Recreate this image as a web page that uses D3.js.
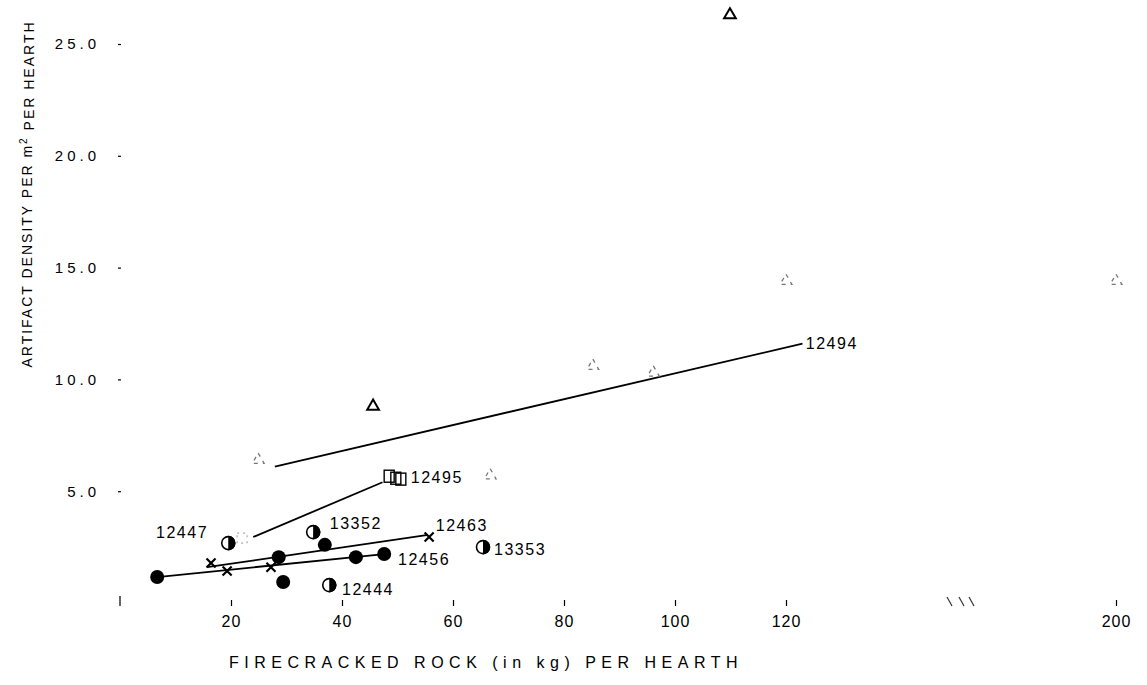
<!DOCTYPE html>
<html>
<head>
<meta charset="utf-8">
<script src="https://cdn.jsdelivr.net/npm/d3@7"></script>
<style>
  body { margin: 0; background: #fff; }
  svg { display: block; font-family: "Liberation Sans", Arial, sans-serif; }
</style>
</head>
<body>
<svg></svg>
<script>
var width = 1147;
var height = 685;

// tick values
var xTicks = [20, 40, 60, 80, 100, 120, 200];
var yTicks = [5, 10, 15, 20, 25];

// hearth 12494 (open triangles)
var triangles = [[45.6, 8.8], [109.9, 26.3]];
var fadedTriangles = [[24.9, 6.4], [85.2, 10.6], [96.1, 10.3], [120, 14.4], [200, 14.4], [66.7, 5.7]];
// hearth 12495 (open squares)
var squares = [[48.5, 5.67], [49.7, 5.58], [50.6, 5.54]];
var fadedSquares = [[22, 2.9]];
// hearth 12463 (crosses)
var crosses = [[16.4, 1.79], [19.3, 1.43], [27.2, 1.6], [55.7, 2.95]];
// hearth 12456 and others (filled circles)
var filled = [[6.7, 1.16], [28.6, 2.05], [29.4, 0.94], [42.5, 2.05], [47.6, 2.19], [36.9, 2.6]];
// half filled circles: 12447, 13352, 12444, 13353
var halfFilled = [[19.5, 2.68], [34.8, 3.17], [37.7, 0.8], [65.4, 2.5]];

// fitted lines (end points)
var fitLines = [
  [[27.9, 6.1], [124, 11.6]],    // 12494
  [[24, 2.95], [47.3, 5.4]],     // 12495
  [[15.7, 1.6], [55.5, 3.05]],   // 12463
  [[6.7, 1.16], [47.6, 2.19]]    // 12456
];

// hearth labels, anchored at the start of the text
var labelNames = ["12494", "12495", "12447", "13352", "12463", "12456", "13353", "12444"];
var labelPos = [[124.8, 11.6], [52.4, 5.6], [6.5, 3.17], [37.8, 3.57], [56.9, 3.48], [50.1, 1.96], [67.4, 2.41], [40, 0.63]];

var svg = d3.select("svg")
  .attr("width", width)
  .attr("height", height);

// x axis is broken after 120
var x = d3.scaleLinear()
  .domain([0, 120, 200])
  .range([120, 786, 1116]);

var y = d3.scaleLinear()
  .domain([0, 25])
  .range([603, 44]);

var ink = "#000";

// axes: tick dashes only, the axis lines are not printed
var xAxis = svg.append("g")
  .attr("transform", "translate(0,600)")
  .call(d3.axisBottom(x).tickValues(xTicks).tickSize(6).tickPadding(10).tickFormat(d3.format("d")));
xAxis.select(".domain").remove();
xAxis.selectAll(".tick line").attr("stroke", ink).attr("stroke-width", 1.2);
xAxis.selectAll(".tick text")
  .attr("fill", ink)
  .style("font-size", "16px")
  .style("letter-spacing", "1px");

var yAxis = svg.append("g")
  .attr("transform", "translate(121,0)")
  .call(d3.axisLeft(y).tickValues(yTicks).tickSize(3).tickPadding(18).tickFormat(d3.format(".1f")));
yAxis.select(".domain").remove();
yAxis.selectAll(".tick line").attr("stroke", ink).attr("stroke-width", 1.2);
yAxis.selectAll(".tick text")
  .attr("fill", ink)
  .style("font-size", "15px")
  .style("letter-spacing", "4px");

// origin tick and axis break marks
svg.append("line")
  .attr("x1", x(0)).attr("x2", x(0))
  .attr("y1", 596).attr("y2", 606)
  .attr("stroke", ink).attr("stroke-width", 1.2);

var breakG = svg.append("g").attr("stroke", "#333").attr("stroke-width", 1.2).attr("fill", "none");
[950, 962, 972].forEach(function(bx) {
  breakG.append("path").attr("d", "M" + (bx - 3) + ",597 L" + (bx + 2) + ",606");
});

// fitted lines
var line = d3.line().x(d => x(d[0])).y(d => y(d[1]));
svg.selectAll(".fit")
  .data(fitLines)
  .enter()
  .append("path")
    .attr("class", "fit")
    .attr("d", line)
    .attr("fill", "none")
    .attr("stroke", ink)
    .attr("stroke-width", 1.8);

// triangles
var tri = d3.symbol().type(d3.symbolTriangle).size(60);
svg.selectAll(".tri")
  .data(triangles)
  .enter()
  .append("path")
    .attr("class", "tri")
    .attr("d", tri)
    .attr("transform", d => "translate(" + x(d[0]) + "," + y(d[1]) + ")")
    .attr("fill", "#fff")
    .attr("stroke", ink)
    .attr("stroke-width", 2);

svg.selectAll(".ftri")
  .data(fadedTriangles)
  .enter()
  .append("path")
    .attr("class", "ftri")
    .attr("d", tri)
    .attr("transform", d => "translate(" + x(d[0]) + "," + y(d[1]) + ")")
    .attr("fill", "none")
    .attr("stroke", "#777")
    .attr("stroke-width", 1.3)
    .attr("stroke-dasharray", "4,5");

// squares
svg.selectAll(".sq")
  .data(squares)
  .enter()
  .append("rect")
    .attr("class", "sq")
    .attr("x", d => x(d[0]) - 5)
    .attr("y", d => y(d[1]) - 6)
    .attr("width", 10)
    .attr("height", 12)
    .attr("fill", "none")
    .attr("stroke", ink)
    .attr("stroke-width", 1.4);

svg.selectAll(".fsq")
  .data(fadedSquares)
  .enter()
  .append("rect")
    .attr("class", "fsq")
    .attr("x", d => x(d[0]) - 5)
    .attr("y", d => y(d[1]) - 5)
    .attr("width", 10)
    .attr("height", 10)
    .attr("fill", "none")
    .attr("stroke", "#aaa")
    .attr("stroke-width", 1.2)
    .attr("stroke-dasharray", "2,4");

// crosses
var cross = d3.symbol().type(d3.symbolTimes).size(55);
svg.selectAll(".cross")
  .data(crosses)
  .enter()
  .append("path")
    .attr("class", "cross")
    .attr("d", cross)
    .attr("transform", d => "translate(" + x(d[0]) + "," + y(d[1]) + ")")
    .attr("fill", "none")
    .attr("stroke", ink)
    .attr("stroke-width", 2.2);

// filled circles
svg.selectAll(".dot")
  .data(filled)
  .enter()
  .append("circle")
    .attr("class", "dot")
    .attr("cx", d => x(d[0]))
    .attr("cy", d => y(d[1]))
    .attr("r", 7)
    .attr("fill", ink);

// half filled circles: right half black
var half = svg.selectAll(".half")
  .data(halfFilled)
  .enter()
  .append("g")
    .attr("class", "half")
    .attr("transform", d => "translate(" + x(d[0]) + "," + y(d[1]) + ")");
half.append("circle")
  .attr("r", 6.5)
  .attr("fill", "#fff")
  .attr("stroke", ink)
  .attr("stroke-width", 1.6);
half.append("path")
  .attr("d", d3.arc().innerRadius(0).outerRadius(7.3).startAngle(0).endAngle(Math.PI))
  .attr("fill", ink);

// hearth labels
svg.selectAll(".lab")
  .data(labelNames)
  .enter()
  .append("text")
    .attr("class", "lab")
    .attr("x", (d, i) => x(labelPos[i][0]))
    .attr("y", (d, i) => y(labelPos[i][1]))
    .attr("dy", "0.35em")
    .attr("fill", ink)
    .style("font-size", "16px")
    .style("letter-spacing", "1.5px")
    .text(d => d);

// axis titles
svg.append("text")
  .attr("x", 486)
  .attr("y", 668)
  .attr("text-anchor", "middle")
  .attr("fill", ink)
  .style("font-size", "16px")
  .style("letter-spacing", "5.5px")
  .text("FIRECRACKED ROCK (in kg) PER HEARTH");

var yTitle = svg.append("text")
  .attr("transform", "translate(32,194) rotate(-90)")
  .attr("text-anchor", "middle")
  .attr("fill", ink)
  .style("font-size", "14px")
  .style("letter-spacing", "2px");
yTitle.append("tspan").text("ARTIFACT DENSITY PER m");
yTitle.append("tspan").attr("dy", "-0.5em").style("font-size", "10px").text("2");
yTitle.append("tspan").attr("dy", "0.5em").text(" PER HEARTH");
</script>
</body>
</html>
